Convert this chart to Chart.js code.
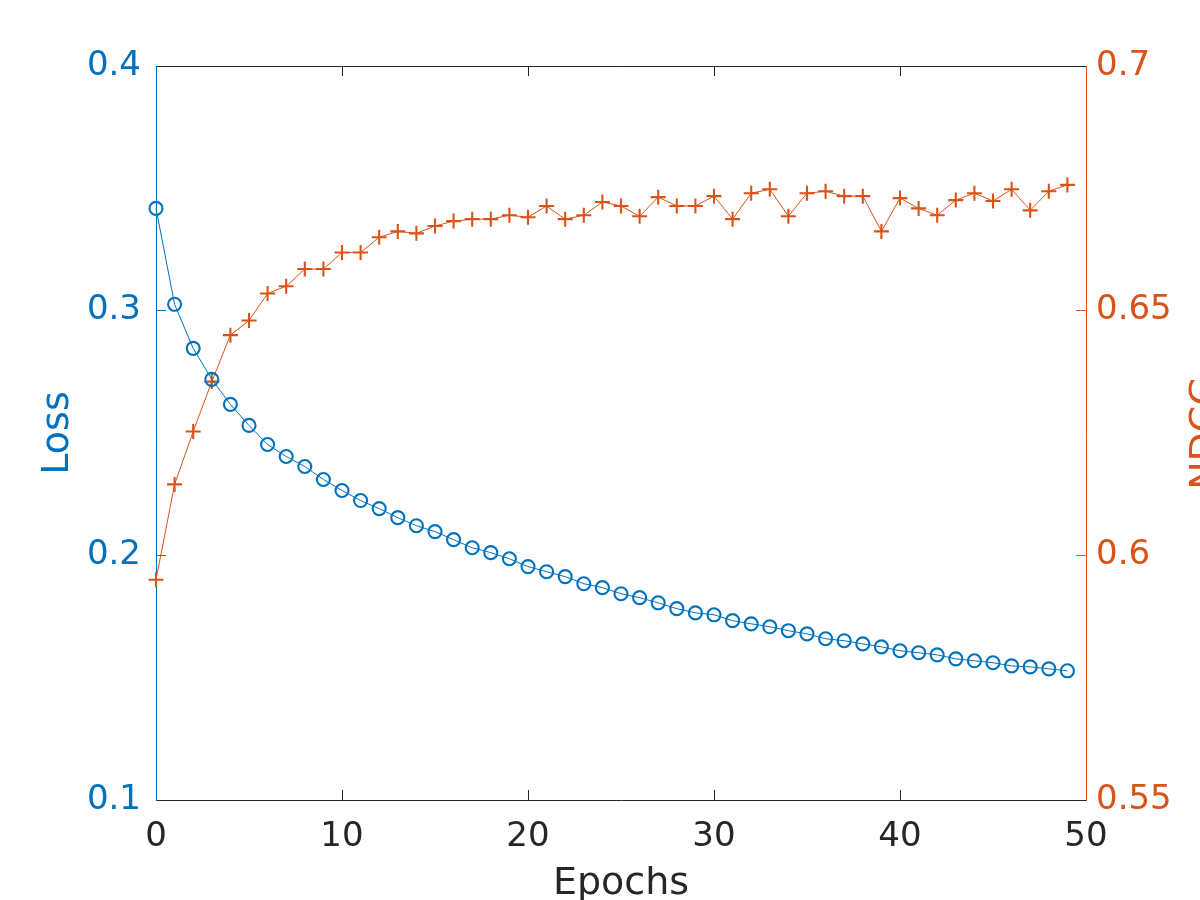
<!DOCTYPE html>
<html>
<head>
<meta charset="utf-8">
<script src="https://cdn.jsdelivr.net/npm/chart.js@4.4.1/dist/chart.umd.min.js"></script>
<style>
html,body{margin:0;padding:0;background:#fff;overflow:hidden;}
canvas{display:block;}
</style>
</head>
<body>
<canvas id="c" width="1200" height="900"></canvas>
<script>
const epochs = [0,1,2,3,4,5,6,7,8,9,10,11,12,13,14,15,16,17,18,19,20,21,22,23,24,25,26,27,28,29,30,31,32,33,34,35,36,37,38,39,40,41,42,43,44,45,46,47,48,49];
const loss = [0.3418,0.3026,0.2846,0.2719,0.2617,0.2531,0.2453,0.2404,0.2363,0.2310,0.2265,0.2224,0.2191,0.2154,0.2121,0.2097,0.2064,0.2031,0.2011,0.1986,0.1954,0.1933,0.1913,0.1884,0.1868,0.1843,0.1827,0.1806,0.1782,0.1765,0.1757,0.1733,0.1720,0.1708,0.1692,0.1679,0.1659,0.1651,0.1638,0.1626,0.1610,0.1602,0.1593,0.1577,0.1569,0.1561,0.1548,0.1544,0.1536,0.1528];
const ndcg = [0.5950,0.6145,0.6253,0.6355,0.6450,0.6480,0.6535,0.6550,0.6585,0.6585,0.6619,0.6619,0.6650,0.6662,0.6658,0.6673,0.6683,0.6687,0.6687,0.6695,0.6691,0.6714,0.6687,0.6695,0.6722,0.6714,0.6693,0.6732,0.6714,0.6714,0.6734,0.6687,0.6740,0.6748,0.6693,0.6740,0.6744,0.6734,0.6734,0.6662,0.6730,0.6709,0.6695,0.6726,0.6740,0.6724,0.6748,0.6705,0.6744,0.6757];
const xTicks = [0,10,20,30,40,50];
const lossTicks = [0.1,0.2,0.3,0.4];
const ndcgTicks = [0.55,0.6,0.65,0.7];
const xTitle = 'Epochs';
const lossTitle = 'Loss';
const ndcgTitle = 'NDCG';

const BLUE = '#0072BD';
const ORANGE = '#D95319';
const DARK = '#262626';
const FONT = "'DejaVu Sans', sans-serif";

function setTicks(arr){ return function(scale){ scale.ticks = arr.map(v => ({value: v})); }; }
function fmt(v){ return String(Number(v.toFixed(2))); }

const rightTitlePlugin = {
  id: 'rightTitle',
  afterDraw(chart){
    const ctx = chart.ctx;
    const s = chart.scales.y1;
    const cy = (s.top + s.bottom) / 2;
    ctx.save();
    ctx.font = '38px ' + FONT;
    ctx.fillStyle = ORANGE;
    ctx.translate(1216, cy);
    ctx.rotate(-Math.PI / 2);
    ctx.textAlign = 'center';
    ctx.textBaseline = 'alphabetic';
    ctx.fillText(ndcgTitle, 0, 0);
    ctx.restore();
  }
};

new Chart(document.getElementById('c'), {
  type: 'line',
  data: {
    datasets: [
      {
        label: lossTitle,
        data: epochs.map((e, i) => ({x: e, y: loss[i]})),
        yAxisID: 'y',
        xAxisID: 'x',
        borderColor: BLUE,
        borderWidth: 1,
        pointStyle: 'circle',
        pointRadius: 6.5,
        pointBorderWidth: 2.1,
        pointBorderColor: BLUE,
        pointBackgroundColor: 'rgba(0,0,0,0)',
        fill: false,
        tension: 0,
        clip: false
      },
      {
        label: ndcgTitle,
        data: epochs.map((e, i) => ({x: e, y: ndcg[i]})),
        yAxisID: 'y1',
        xAxisID: 'x',
        borderColor: ORANGE,
        borderWidth: 1,
        pointStyle: 'cross',
        pointRadius: 7.5,
        pointBorderWidth: 2.1,
        pointBorderColor: ORANGE,
        pointBackgroundColor: ORANGE,
        fill: false,
        tension: 0,
        clip: false
      }
    ]
  },
  options: {
    responsive: false,
    animation: false,
    devicePixelRatio: 1,
    layout: {padding: 0},
    plugins: {legend: {display: false}, tooltip: {enabled: false}},
    events: [],
    scales: {
      x: {
        type: 'linear', position: 'bottom', min: 0, max: 50,
        afterBuildTicks: setTicks(xTicks),
        afterFit(s){ s.height = 100; },
        border: {display: true, color: DARK, width: 1},
        grid: {drawOnChartArea: false, drawTicks: true, tickLength: -10, color: DARK, tickColor: DARK, tickWidth: 1},
        ticks: {color: DARK, font: {family: FONT, size: 34}, padding: 27, maxRotation: 0, autoSkip: false, callback: v => fmt(v)},
        title: {display: true, text: xTitle, color: DARK, font: {family: FONT, size: 38, lineHeight: 0.86}, padding: {top: 0, bottom: 0}}
      },
      x2: {
        type: 'linear', position: 'top', min: 0, max: 50,
        afterBuildTicks: setTicks(xTicks),
        afterFit(s){ s.height = 66; },
        border: {display: true, color: DARK, width: 1},
        grid: {drawOnChartArea: false, drawTicks: true, tickLength: -10, color: DARK, tickColor: DARK, tickWidth: 1},
        ticks: {display: false}
      },
      y: {
        type: 'linear', position: 'left', min: 0.1, max: 0.4,
        afterBuildTicks: setTicks(lossTicks),
        afterFit(s){ s.width = 156; },
        border: {display: true, color: BLUE, width: 1},
        grid: {drawOnChartArea: false, drawTicks: true, tickLength: -10, color: BLUE, tickColor: BLUE, tickWidth: 1},
        ticks: {color: BLUE, font: {family: FONT, size: 34}, padding: 25, callback: v => fmt(v)},
        title: {display: true, text: lossTitle, color: BLUE, font: {family: FONT, size: 38, lineHeight: 1}, padding: {top: 39, bottom: 0}}
      },
      y1: {
        type: 'linear', position: 'right', min: 0.55, max: 0.7,
        afterBuildTicks: setTicks(ndcgTicks),
        afterFit(s){ s.width = 114; },
        border: {display: true, color: ORANGE, width: 1},
        grid: {drawOnChartArea: false, drawTicks: true, tickLength: -10, color: ORANGE, tickColor: ORANGE, tickWidth: 1},
        ticks: {color: ORANGE, font: {family: FONT, size: 34}, padding: 20, callback: v => fmt(v)}
      }
    }
  },
  plugins: [rightTitlePlugin]
});
</script>
</body>
</html>
